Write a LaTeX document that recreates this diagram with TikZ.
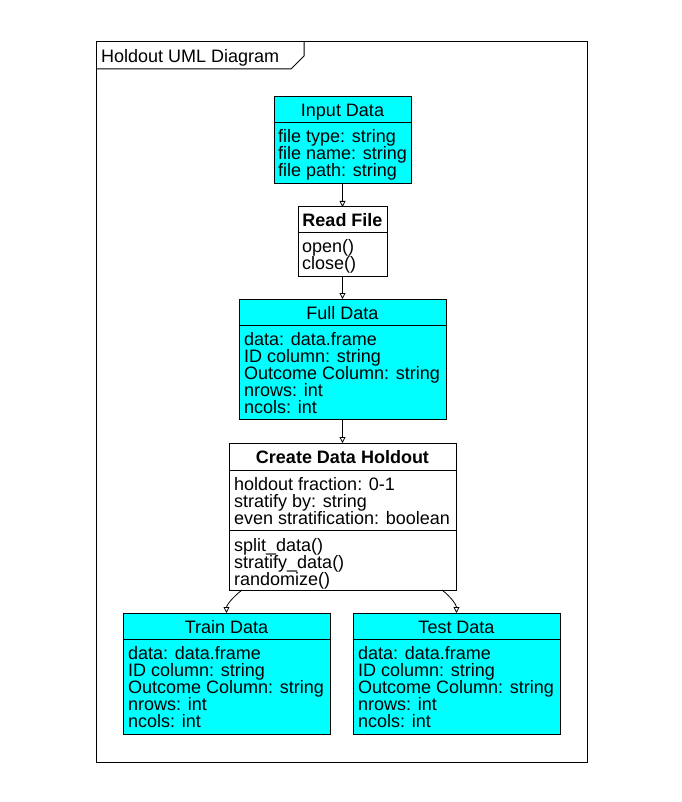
\documentclass[tikz,border=0pt]{standalone}
\usepackage{fontspec}
\setmainfont{Liberation Sans}
\usetikzlibrary{arrows.meta}
\definecolor{umlcyan}{HTML}{00FFFF}
\newcommand\umlfont{\fontsize{18}{17}\selectfont}
\tikzset{
  cls/.style={draw=black, line width=1pt, anchor=north west, inner sep=0pt, outer sep=0pt},
  datacls/.style={cls, fill=umlcyan},
  ttl/.style={anchor=base, inner sep=0pt, font=\umlfont},
  attr/.style={anchor=base west, inner sep=0pt, font=\umlfont},
  sepline/.style={line width=1pt},
  arr/.style={-{Triangle[open,length=6pt,width=6pt]}, line width=0.8pt}
}
\begin{document}
\begin{tikzpicture}[x=1pt,y=-1pt]
\useasboundingbox (0,0) rectangle (681,802);
\fill[white] (0,0) rectangle (681,802);

% frame with title tab
\draw[line width=1pt] (96,42) rectangle (587,762);
\draw[line width=1pt] (96,69) -- (291,69) -- (304,56) -- (304,42);
\node[attr] (frametitle) at (101,63) {Holdout UML Diagram};

% Input Data
\node[datacls, minimum width=137pt, minimum height=87pt] (inp) at (274,97) {};
\draw[sepline] ([yshift=-26pt]inp.north west) -- ([yshift=-26pt]inp.north east);
\node[ttl] (inp-t) at (inp.north |- 0,117) {Input Data};
\foreach \t [count=\i from 0] in {file type: string, file name: string, file path: string}
  \node[attr] (inp-a\i) at (278,143+17*\i) {\t};

% Read File
\node[cls, fill=white, minimum width=89pt, minimum height=69pt] (rf) at (298,207) {};
\draw[sepline] ([yshift=-25pt]rf.north west) -- ([yshift=-25pt]rf.north east);
\node[ttl] (rf-t) at (rf.north |- 0,226) {\bfseries Read File};
\foreach \t [count=\i from 0] in {open(), close()}
  \node[attr] (rf-m\i) at (302,252+17*\i) {\t};

% Full Data
\node[datacls, minimum width=207pt, minimum height=120pt] (full) at (239,299) {};
\draw[sepline] ([yshift=-26pt]full.north west) -- ([yshift=-26pt]full.north east);
\node[ttl] (full-t) at (full.north |- 0,319) {Full Data};
\foreach \t [count=\i from 0] in {data: data.frame, ID column: string, Outcome Column: string, nrows: int, ncols: int}
  \node[attr] (full-a\i) at (244,345+17*\i) {\t};

% Create Data Holdout
\node[cls, fill=white, minimum width=227pt, minimum height=147pt] (cdh) at (229,443) {};
\draw[sepline] ([yshift=-27pt]cdh.north west) -- ([yshift=-27pt]cdh.north east);
\draw[sepline] ([yshift=-87pt]cdh.north west) -- ([yshift=-87pt]cdh.north east);
\node[ttl] (cdh-t) at (cdh.north |- 0,463) {\bfseries Create Data Holdout};
\foreach \t [count=\i from 0] in {holdout fraction: 0-1, stratify by: string, even stratification: boolean}
  \node[attr] (cdh-a\i) at (234,490+17*\i) {\t};
\foreach \t [count=\i from 0] in {split\_data(), stratify\_data(), randomize()}
  \node[attr] (cdh-m\i) at (234,551+17*\i) {\t};

% Train Data
\node[datacls, minimum width=207pt, minimum height=121pt] (train) at (123,613) {};
\draw[sepline] ([yshift=-26pt]train.north west) -- ([yshift=-26pt]train.north east);
\node[ttl] (train-t) at (train.north |- 0,633) {Train Data};
\foreach \t [count=\i from 0] in {data: data.frame, ID column: string, Outcome Column: string, nrows: int, ncols: int}
  \node[attr] (train-a\i) at (128,659+17*\i) {\t};

% Test Data
\node[datacls, minimum width=207pt, minimum height=121pt] (test) at (353,613) {};
\draw[sepline] ([yshift=-26pt]test.north west) -- ([yshift=-26pt]test.north east);
\node[ttl] (test-t) at (test.north |- 0,633) {Test Data};
\foreach \t [count=\i from 0] in {data: data.frame, ID column: string, Outcome Column: string, nrows: int, ncols: int}
  \node[attr] (test-a\i) at (358,659+17*\i) {\t};

% connectors
\draw[arr] (inp.south) -- (rf.north);
\draw[arr] (rf.south) -- (full.north);
\draw[arr] (full.south) -- (cdh.north);
\draw[arr] ([xshift=13pt]cdh.south west) .. controls +(-9,7) and +(0,-8) .. (train.north);
\draw[arr] ([xshift=-14pt]cdh.south east) .. controls +(9,7) and +(0,-8) .. (test.north);
\end{tikzpicture}
\end{document}
